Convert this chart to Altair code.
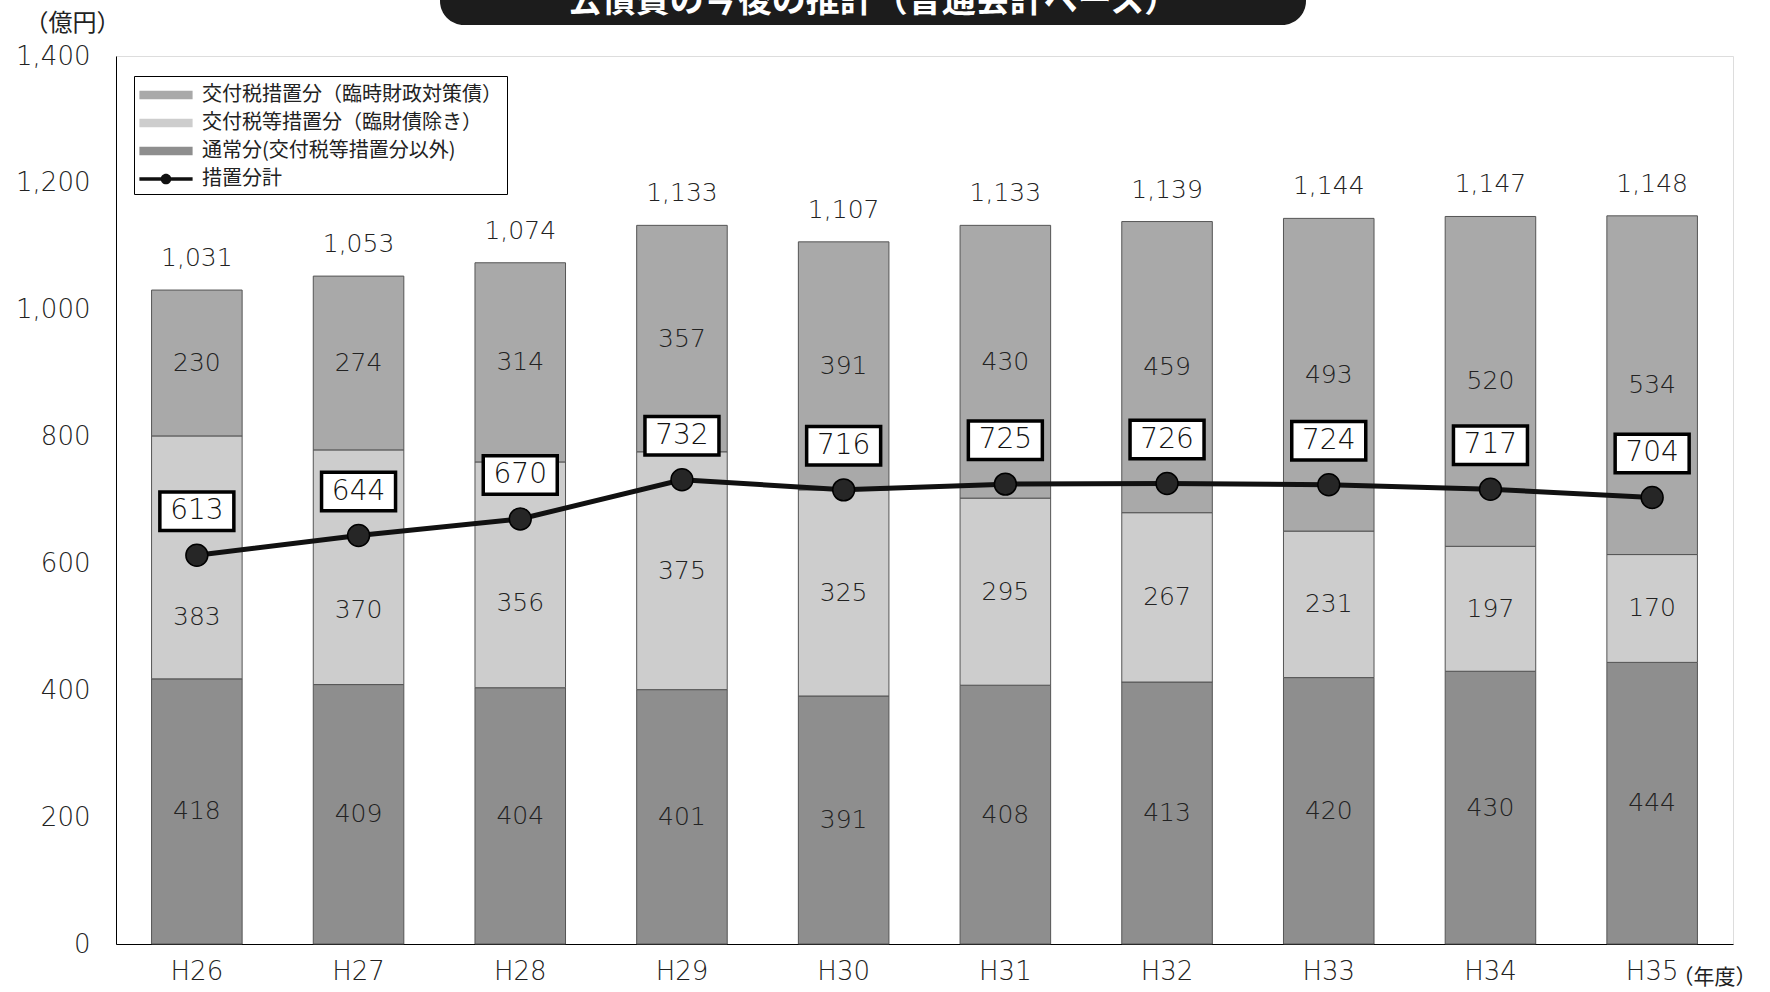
import altair as alt
import pandas as pd

years = ["H26", "H27", "H28", "H29", "H30", "H31", "H32", "H33", "H34", "H35"]
rinzai = [230, 274, 314, 357, 391, 430, 459, 493, 520, 534]      # 交付税措置分（臨時財政対策債）
kofuzei = [383, 370, 356, 375, 325, 295, 267, 231, 197, 170]     # 交付税等措置分（臨財債除き）
tsujo = [418, 409, 404, 401, 391, 408, 413, 420, 430, 444]       # 通常分
totals = [1031, 1053, 1074, 1133, 1107, 1133, 1139, 1144, 1147, 1148]
sochi = [613, 644, 670, 732, 716, 725, 726, 724, 717, 704]       # 措置分計

S_TOP = "交付税措置分（臨時財政対策債）"
S_MID = "交付税等措置分（臨財債除き）"
S_BOT = "通常分(交付税等措置分以外)"
S_LINE = "措置分計"
series_order = [S_TOP, S_MID, S_BOT, S_LINE]
series_colors = ["#a9a9a9", "#cdcdcd", "#8e8e8e", "#111111"]

FONT = "Noto Sans CJK JP"
NUM = "DejaVu Sans"

rows = []
for i, y in enumerate(years):
    b, m, t = tsujo[i], kofuzei[i], rinzai[i]
    mid_c = b + m / 2
    if sochi[i] - mid_c < 100:
        mid_c = (b + sochi[i]) / 2
    rows.append({"year": y, "series": S_BOT, "value": b, "ord": 0, "lab": b / 2})
    rows.append({"year": y, "series": S_MID, "value": m, "ord": 1, "lab": mid_c})
    rows.append({"year": y, "series": S_TOP, "value": t, "ord": 2, "lab": b + m + t / 2})
bars_df = pd.DataFrame(rows)
tot_df = pd.DataFrame({"year": years, "total": totals})
line_df = pd.DataFrame({"year": years, "v": sochi, "series": [S_LINE] * len(years)})
one = pd.DataFrame({"a": [0]})

x_enc = alt.X("year:N", sort=years,
              scale=alt.Scale(paddingInner=0.44, paddingOuter=0.22),
              axis=alt.Axis(title="（年度）", labelAngle=0, labelFontSize=26, labelPadding=14,
                            labelColor="#222", labelFont=NUM, labelFontWeight=300,
                            ticks=False, tickSize=0,
                            domainColor="#000", titleX=1598, titleY=33, titleAlign="center",
                            titleBaseline="middle", titleFontSize=21, titleFontWeight="normal",
                            titleFont=FONT, titleColor="#222"))
y_scale = alt.Scale(domain=[0, 1400], nice=False)
y_axis = alt.Axis(values=list(range(0, 1401, 200)), format=",.0f", labelFontSize=26,
                  labelFontWeight=300,
                  labelPadding=26, labelColor="#222", labelFont=NUM, ticks=False, tickSize=0,
                  grid=False, domainColor="#000", title="（億円）", titleAngle=0, titleX=-44,
                  titleY=-33, titleAlign="center", titleBaseline="middle", titleFontSize=24,
                  titleFontWeight="normal", titleFont=FONT, titleColor="#222")
color_scale = alt.Scale(domain=series_order, range=series_colors)

bar_sym = "M-1.9,-0.31L1.9,-0.31L1.9,0.31L-1.9,0.31Z"
line_sym = ("M-1.9,-0.12L1.9,-0.12L1.9,0.12L-1.9,0.12Z "
            "M0.38,0A0.38,0.38 0 1,1 -0.38,0A0.38,0.38 0 1,1 0.38,0Z")
shape_scale = alt.Scale(domain=series_order, range=[bar_sym, bar_sym, bar_sym, line_sym])
legend = alt.Legend(title=None, orient="none", legendX=18, legendY=20, fillColor="white",
                    strokeColor="#000", padding=5, labelFontSize=20, labelFont=FONT,
                    labelColor="#222", symbolSize=784, symbolOffset=13, labelOffset=22,
                    rowPadding=4, labelLimit=500, symbolStrokeWidth=0)

bars = alt.Chart(bars_df).mark_bar(stroke="#555", strokeWidth=1).encode(
    x=x_enc,
    y=alt.Y("value:Q", stack="zero", scale=y_scale, axis=y_axis),
    color=alt.Color("series:N", scale=color_scale, legend=legend),
    order=alt.Order("ord:Q"),
)

seg_labels = alt.Chart(bars_df).mark_text(fontSize=25, font=NUM, fontWeight=300, color="#222",
                                          baseline="middle").encode(
    x=alt.X("year:N", sort=years), y=alt.Y("lab:Q"), text=alt.Text("value:Q"))

tot_labels = alt.Chart(tot_df).mark_text(fontSize=25, font=NUM, fontWeight=300, color="#222",
                                         baseline="middle", dy=-32).encode(
    x=alt.X("year:N", sort=years), y=alt.Y("total:Q"), text=alt.Text("total:Q", format=","))

line = alt.Chart(line_df).mark_line(color="#111", strokeWidth=5).encode(
    x=alt.X("year:N", sort=years), y=alt.Y("v:Q"))
pts = alt.Chart(line_df).mark_circle(size=480, color="#262626", opacity=1,
                                     stroke="#000", strokeWidth=1.5).encode(
    x=alt.X("year:N", sort=years), y=alt.Y("v:Q"))

box_shape = "M-1,-0.52L1,-0.52L1,0.52L-1,0.52Z"
boxes = alt.Chart(line_df).mark_point(shape=box_shape, size=5476, filled=True, fill="white",
                                      stroke="#000", strokeWidth=3.5, opacity=1,
                                      yOffset=-44).encode(
    x=alt.X("year:N", sort=years), y=alt.Y("v:Q"))
box_text = alt.Chart(line_df).mark_text(fontSize=28, font=NUM, fontWeight=300, color="#111",
                                        baseline="middle", dy=-44).encode(
    x=alt.X("year:N", sort=years), y=alt.Y("v:Q"), text=alt.Text("v:Q"))

legend_layer = alt.Chart(line_df).transform_filter("datum.v < 0").mark_point(
    filled=True, opacity=1).encode(
    x=alt.X("year:N", sort=years), y=alt.Y("v:Q"),
    color=alt.Color("series:N", scale=color_scale, legend=legend),
    shape=alt.Shape("series:N", scale=shape_scale, legend=legend),
)

title_box = alt.Chart(one).mark_rect(color="#1c1c1c", cornerRadius=24).encode(
    x=alt.value(324), x2=alt.value(1190), y=alt.value(-110), y2=alt.value(-31))
title_text = alt.Chart(one).mark_text(text="公債費の今後の推計（普通会計ベース）", color="white",
                                      fontSize=34, font=FONT, fontWeight="bold",
                                      baseline="alphabetic", align="center").encode(
    x=alt.value(757), y=alt.value(-44))

chart = alt.layer(
    bars, seg_labels, tot_labels, line, pts, boxes, box_text, legend_layer,
    title_box, title_text
).properties(
    width=1617, height=888,
    autosize=alt.AutoSizeParams(type="none"),
    padding={"left": 116, "top": 56, "right": 37, "bottom": 48},
    background="white",
).configure_view(stroke="#000", strokeWidth=1.2).configure(font=FONT)

chart.save("out.html", embed_options={"renderer": "svg", "actions": False})
